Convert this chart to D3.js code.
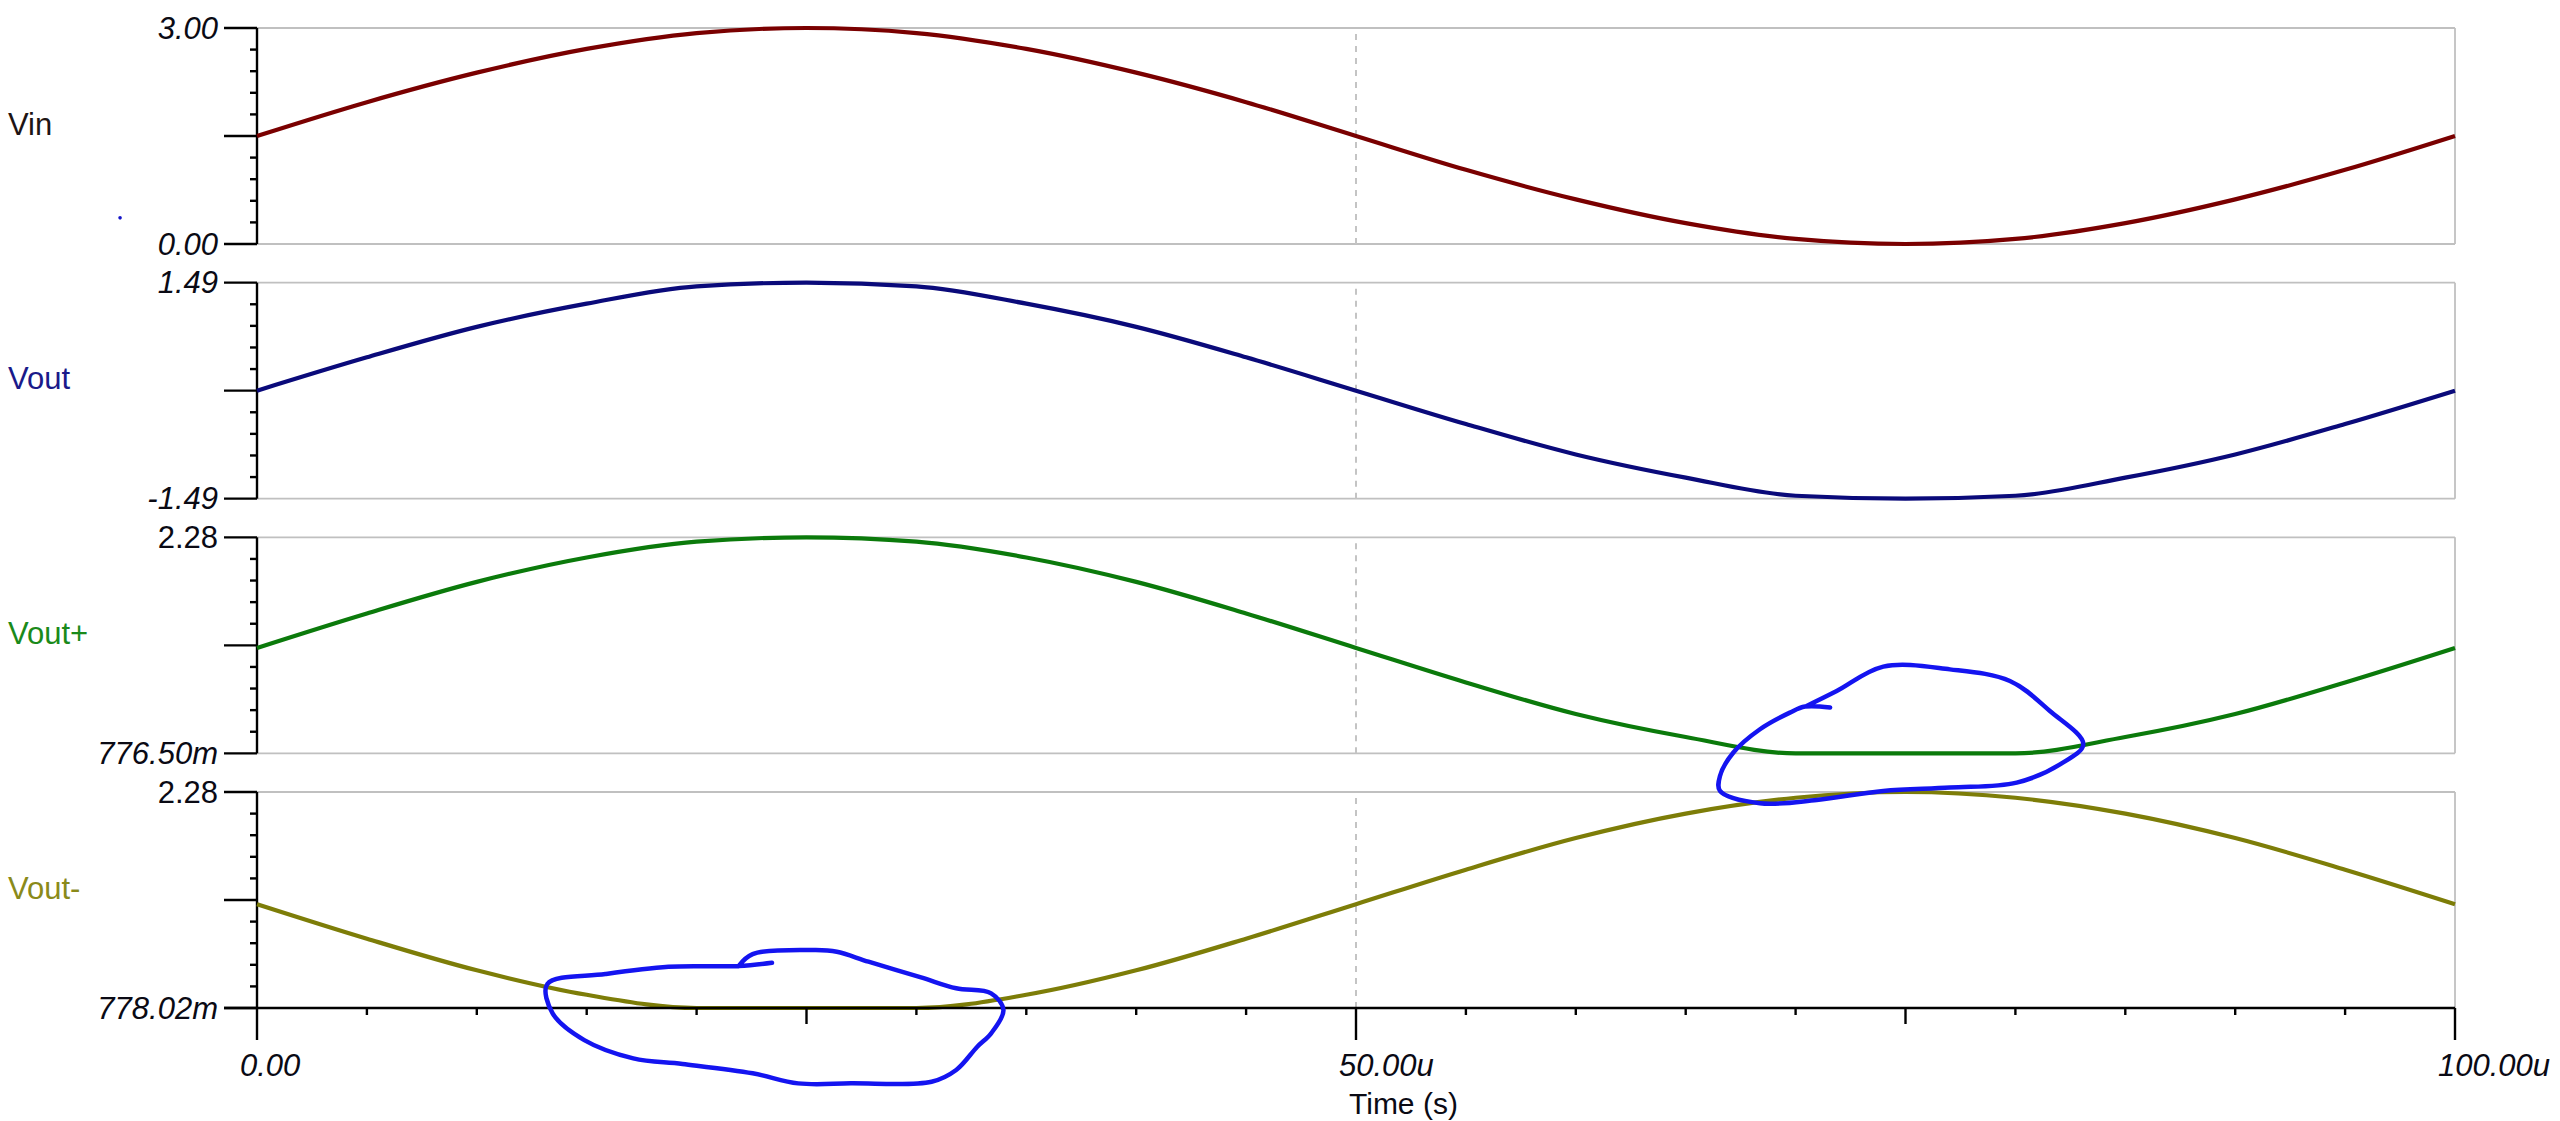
<!DOCTYPE html>
<html>
<head>
<meta charset="utf-8">
<script src="https://cdn.jsdelivr.net/npm/d3@7"></script>
<style>
  html, body { margin: 0; padding: 0; background: #ffffff; }
  svg { display: block; }
</style>
</head>
<body>
<svg id="chart" width="2560" height="1121"></svg>
<script>
// ---------------- DATA ----------------
const timeUs = [0, 5, 10, 15, 20, 25, 30, 35, 40, 45, 50, 55, 60, 65, 70, 75, 80, 85, 90, 95, 100];
const vin       = [1.50, 1.97, 2.38, 2.71, 2.93, 3.00, 2.93, 2.71, 2.38, 1.97, 1.50, 1.03, 0.62, 0.29, 0.07, 0.00, 0.07, 0.29, 0.62, 1.03, 1.50];
const vout      = [0.00, 0.46, 0.88, 1.20, 1.44, 1.49, 1.44, 1.20, 0.88, 0.46, 0.00, -0.46, -0.88, -1.20, -1.45, -1.49, -1.45, -1.20, -0.88, -0.46, 0.00];
const voutPlus  = [1.51, 1.75, 1.97, 2.14, 2.25, 2.28, 2.25, 2.14, 1.97, 1.75, 1.51, 1.27, 1.05, 0.89, 0.7765, 0.7765, 0.7765, 0.89, 1.05, 1.27, 1.51];
const voutMinus = [1.50, 1.26, 1.04, 0.87, 0.778, 0.778, 0.778, 0.87, 1.04, 1.26, 1.50, 1.74, 1.96, 2.13, 2.24, 2.28, 2.24, 2.13, 1.96, 1.74, 1.50];

const seriesNames  = ["Vin", "Vout", "Vout+", "Vout-"];
const seriesValues = [vin, vout, voutPlus, voutMinus];
const yDomains     = [[0, 3.0], [-1.49, 1.49], [0.7765, 2.28], [0.77802, 2.28]];
const yTopLabels   = ["3.00", "1.49", "2.28", "2.28"];
const yBottomLabels= ["0.00", "-1.49", "776.50m", "778.02m"];
const xTickValues  = [0, 50, 100];
const xTickLabels  = ["0.00", "50.00u", "100.00u"];
const xAxisTitle   = "Time (s)";

// hand-drawn annotation loops, in (time µs, volts of the panel they are drawn over)
const annoLoopA_t = [71.57, 70.43, 69.74, 68.38, 67.17, 66.56, 66.56, 68.38, 70.96, 73.99, 77.02, 80.06, 82.03, 83.09, 81.57, 79.75, 77.02, 73.99, 71.87, 70.50];
const annoLoopA_v = [1.095, 1.102, 1.060, 0.944, 0.782, 0.619, 0.515, 0.429, 0.452, 0.515, 0.538, 0.573, 0.700, 0.840, 1.071, 1.280, 1.361, 1.380, 1.210, 1.106];
const annoLoopB_t = [23.43, 21.91, 18.72, 15.85, 13.21, 13.45, 14.89, 17.12, 19.36, 22.55, 24.62, 27.02, 30.69, 31.81, 32.77, 33.40, 33.96, 33.40, 31.81, 30.21, 27.82, 26.38, 25.42, 22.55, 21.91];
const annoLoopB_v = [1.093, 1.070, 1.065, 1.014, 0.945, 0.741, 0.555, 0.428, 0.389, 0.324, 0.254, 0.254, 0.265, 0.347, 0.509, 0.602, 0.764, 0.880, 0.915, 0.991, 1.100, 1.169, 1.181, 1.153, 1.070];

// ---------------- STYLE / LAYOUT ----------------
const lineColors  = ["#7a0000", "#0a0a7a", "#0b7a0b", "#7d7d08"];
const labelColors = ["#1e1414", "#1a1a8a", "#1a8a1a", "#8a8a1a"];
const topItalic    = [true, true, false, false];
const plotLeft = 257, plotRight = 2455;
const panelTop0 = 28, panelPitch = 254.67, panelH = 216;
const font = "'Liberation Sans', Arial, sans-serif";

const svg = d3.select("#chart");
const x = d3.scaleLinear().domain([0, 100]).range([plotLeft, plotRight]);

const yScales = yDomains.map((dom, i) => {
  const top = panelTop0 + i * panelPitch;
  return d3.scaleLinear().domain(dom).range([top + panelH, top]);
});

yScales.forEach((y, i) => {
  const [lo, hi] = y.domain();
  const top = y(hi), bot = y(lo);
  const g = svg.append("g");

  // gray frame: top, right, bottom (bottom of last panel is the black x axis)
  g.append("line").attr("x1", plotLeft).attr("x2", plotRight).attr("y1", top).attr("y2", top)
    .attr("stroke", "#c0c0c0").attr("stroke-width", 1.8);
  g.append("line").attr("x1", plotRight).attr("x2", plotRight).attr("y1", top).attr("y2", bot)
    .attr("stroke", "#c0c0c0").attr("stroke-width", 1.8);
  if (i < 3) {
    g.append("line").attr("x1", plotLeft).attr("x2", plotRight).attr("y1", bot).attr("y2", bot)
      .attr("stroke", "#c0c0c0").attr("stroke-width", 1.8);
  }
  // dashed mid-time grid line
  g.append("line").attr("x1", x(50)).attr("x2", x(50)).attr("y1", top + 6).attr("y2", bot)
    .attr("stroke", "#c4c4c4").attr("stroke-width", 2).attr("stroke-dasharray", "6,6");

  // y axis
  const ticks = d3.range(11).map(k => lo + k * (hi - lo) / 10);
  g.append("line").attr("x1", plotLeft).attr("x2", plotLeft).attr("y1", top).attr("y2", bot)
    .attr("stroke", "#000").attr("stroke-width", 2.4);
  ticks.forEach((v, k) => {
    const major = (k % 5 === 0);
    g.append("line").attr("x1", plotLeft - (major ? 33 : 7)).attr("x2", plotLeft)
      .attr("y1", y(v)).attr("y2", y(v)).attr("stroke", "#000").attr("stroke-width", 2.4);
  });
  g.append("text").attr("x", 218).attr("y", top).attr("text-anchor", "end")
    .attr("dominant-baseline", "central").attr("font-family", font).attr("font-size", 31)
    .attr("font-style", topItalic[i] ? "italic" : "normal").attr("fill", "#0a0a14")
    .text(yTopLabels[i]);
  g.append("text").attr("x", 218).attr("y", bot).attr("text-anchor", "end")
    .attr("dominant-baseline", "central").attr("font-family", font).attr("font-size", 31)
    .attr("font-style", "italic").attr("fill", "#0a0a14")
    .text(yBottomLabels[i]);

  // series name
  g.append("text").attr("x", 8).attr("y", (top + bot) / 2 - 12)
    .attr("dominant-baseline", "central").attr("font-family", font).attr("font-size", 31)
    .attr("fill", labelColors[i]).text(seriesNames[i]);

  // curve
  const line = d3.line().x(d => x(d[0])).y(d => y(d[1])).curve(d3.curveMonotoneX);
  g.append("path").datum(timeUs.map((t, k) => [t, seriesValues[i][k]]))
    .attr("d", line).attr("fill", "none").attr("stroke", lineColors[i])
    .attr("stroke-width", 4.2).attr("stroke-linejoin", "round");
});

// x axis at bottom of the last panel
const yLast = yScales[3];
const axisY = yLast(yLast.domain()[0]);
const gx = svg.append("g");
gx.append("line").attr("x1", plotLeft - 33).attr("x2", plotRight).attr("y1", axisY).attr("y2", axisY)
  .attr("stroke", "#000").attr("stroke-width", 2.4);
d3.range(0, 101, 5).forEach(t => {
  const len = (t % 50 === 0) ? 32 : (t % 25 === 0 ? 16 : 7);
  gx.append("line").attr("x1", x(t)).attr("x2", x(t)).attr("y1", axisY).attr("y2", axisY + len)
    .attr("stroke", "#000").attr("stroke-width", 2.4);
});
xTickValues.forEach((t, k) => {
  gx.append("text").attr("x", x(t) - 17).attr("y", axisY + 57)
    .attr("dominant-baseline", "central").attr("font-family", font).attr("font-size", 31)
    .attr("font-style", "italic").attr("fill", "#0a0a14").text(xTickLabels[k]);
});
gx.append("text").attr("x", x(50) - 7).attr("y", 1114)
  .attr("font-family", font).attr("font-size", 30).attr("fill", "#0a0a14").text(xAxisTitle);

// hand-drawn blue annotation loops
const annoLine = (y) => d3.line().x(d => x(d[0])).y(d => y(d[1])).curve(d3.curveCatmullRom.alpha(0.5));
svg.append("path").datum(annoLoopA_t.map((t, k) => [t, annoLoopA_v[k]]))
  .attr("d", annoLine(yScales[2])).attr("fill", "none").attr("stroke", "#1414f0")
  .attr("stroke-width", 4.5).attr("stroke-linecap", "round").attr("stroke-linejoin", "round");
svg.append("path").datum(annoLoopB_t.map((t, k) => [t, annoLoopB_v[k]]))
  .attr("d", annoLine(yScales[3])).attr("fill", "none").attr("stroke", "#1414f0")
  .attr("stroke-width", 4.5).attr("stroke-linecap", "round").attr("stroke-linejoin", "round");
// stray blue dot left of the first panel
svg.append("circle").attr("cx", x(-6.23)).attr("cy", yScales[0](0.363)).attr("r", 1.8).attr("fill", "#1414c8");
</script>
</body>
</html>
